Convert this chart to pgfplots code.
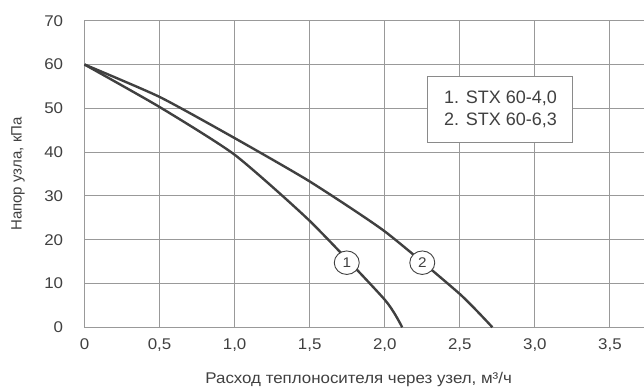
\documentclass[border=0pt]{standalone}
\usepackage{pgfplots}
\pgfplotsset{compat=1.18}
\usetikzlibrary{shapes.geometric}
\usepackage{fontspec}
\setmainfont{Liberation Sans}[FakeStretch=1.09]
\newfontfamily\plainfont{Liberation Sans}
\definecolor{txt}{HTML}{404040}
\definecolor{crv}{HTML}{404040}
\definecolor{grd}{HTML}{999999}
\definecolor{box}{HTML}{8A8A8A}
\begin{document}
\begin{tikzpicture}
\path[use as bounding box] (-84.5bp,-59.7bp) rectangle (559.5bp,327.3bp);
\begin{axis}[
  at={(0,0)}, anchor=south west,
  scale only axis,
  width=559.5bp, height=306.6bp,
  xmin=0, xmax=3.727, ymin=0, ymax=70,
  xtick={0,0.5,1,1.5,2,2.5,3,3.5},
  xticklabels={0,{0,5},{1,0},{1,5},{2,0},{2,5},{3,0},{3,5}},
  ytick={0,10,20,30,40,50,60,70},
  yticklabels={0,10,20,30,40,50,60,70},
  axis line style={draw=none},
  major tick length=0pt,
  grid=major,
  grid style={color=grd, line width=1bp},
  xticklabel style={font=\fontsize{15.5bp}{18bp}\selectfont, text=txt, inner sep=0pt, anchor=base, yshift=-21.7bp},
  yticklabel style={font=\fontsize{15.5bp}{18bp}\selectfont, text=txt, inner sep=0pt, anchor=east, xshift=-21.2bp},
  xlabel={Расход теплоносителя через узел, м³/ч},
  ylabel={Напор узла, кПа},
  every axis x label/.style={at={(axis description cs:0.49,0)}, anchor=base, yshift=-55.7bp, font=\fontsize{15.5bp}{18bp}\selectfont, text=txt, inner sep=0pt},
  every axis y label/.style={at={(axis description cs:0,0.5)}, xshift=-66.5bp, rotate=90, anchor=center, font=\plainfont\fontsize{15bp}{18bp}\selectfont, text=txt, inner sep=0pt},
  clip=false,
]
\addplot[crv, line width=2.4bp, smooth, tension=0.35] coordinates {
  (0,60) (0.5,50.3) (1.0,39.4) (1.5,24.3) (2.0,6.3) (2.116,0)
};
\addplot[crv, line width=2.4bp, smooth, tension=0.35] coordinates {
  (0,60) (0.5,52.6) (1.0,43.2) (1.5,33.3) (2.0,21.9) (2.5,7.6) (2.717,0)
};
\node[ellipse, draw=crv, fill=white, minimum width=25bp, minimum height=23.5bp, inner sep=0pt, line width=0.9bp, text=txt, font=\fontsize{14bp}{16bp}\selectfont] at (axis cs:1.747,14.75) {1};
\node[ellipse, draw=crv, fill=white, minimum width=25bp, minimum height=23.5bp, inner sep=0pt, line width=0.9bp, text=txt, font=\fontsize{14bp}{16bp}\selectfont] at (axis cs:2.25,14.75) {2};
\node[draw=box, fill=white, line width=1bp, minimum width=145bp, minimum height=66bp, align=left, text=txt, font=\plainfont\fontsize{18bp}{22bp}\selectfont] at (axis cs:2.771,49.8) {1. STX 60-4,0\\2. STX 60-6,3};
\end{axis}
\end{tikzpicture}
\end{document}
